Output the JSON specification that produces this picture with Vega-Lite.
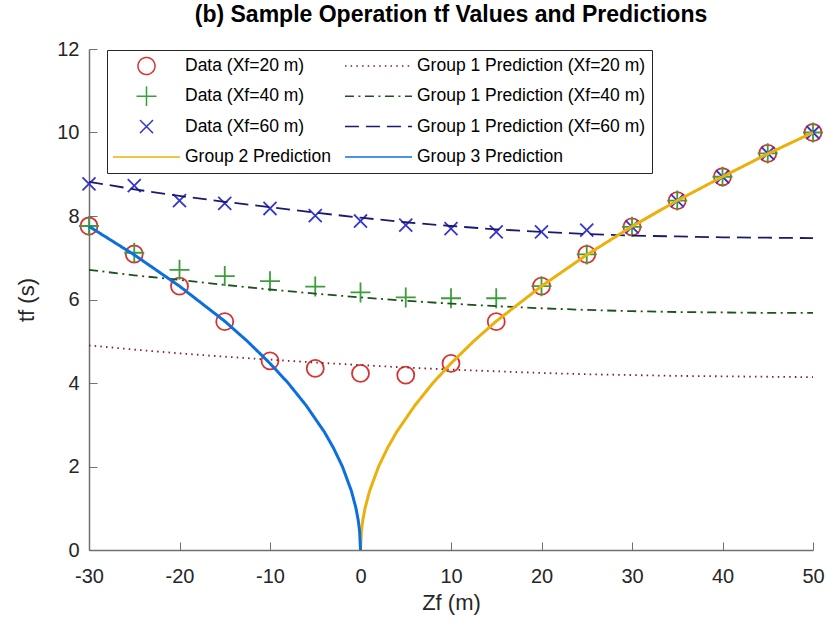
{
  "$schema": "https://vega.github.io/schema/vega-lite/v6.json",
  "width": 724,
  "height": 501,
  "autosize": {"type": "none"},
  "padding": {"left": 89, "top": 49, "right": 14, "bottom": 79},
  "background": "white",
  "title": {"text": "(b) Sample Operation tf Values and Predictions", "font": "Liberation Sans", "fontSize": 23, "fontWeight": "bold", "color": "#000000", "anchor": "middle", "offset": 12},
  "datasets": {
    "points": [
      {"series": "Data (Xf=20 m)", "z": -30, "t": 7.76},
      {"series": "Data (Xf=20 m)", "z": -25, "t": 7.09},
      {"series": "Data (Xf=20 m)", "z": -20, "t": 6.32},
      {"series": "Data (Xf=20 m)", "z": -15, "t": 5.47},
      {"series": "Data (Xf=20 m)", "z": -10, "t": 4.53},
      {"series": "Data (Xf=20 m)", "z": -5, "t": 4.35},
      {"series": "Data (Xf=20 m)", "z": 0, "t": 4.23},
      {"series": "Data (Xf=20 m)", "z": 5, "t": 4.19},
      {"series": "Data (Xf=20 m)", "z": 10, "t": 4.47},
      {"series": "Data (Xf=20 m)", "z": 15, "t": 5.47},
      {"series": "Data (Xf=20 m)", "z": 20, "t": 6.32},
      {"series": "Data (Xf=20 m)", "z": 25, "t": 7.08},
      {"series": "Data (Xf=20 m)", "z": 30, "t": 7.74},
      {"series": "Data (Xf=20 m)", "z": 35, "t": 8.37},
      {"series": "Data (Xf=20 m)", "z": 40, "t": 8.94},
      {"series": "Data (Xf=20 m)", "z": 45, "t": 9.5},
      {"series": "Data (Xf=20 m)", "z": 50, "t": 10.0},
      {"series": "Data (Xf=40 m)", "z": -30, "t": 7.76},
      {"series": "Data (Xf=40 m)", "z": -25, "t": 7.12},
      {"series": "Data (Xf=40 m)", "z": -20, "t": 6.71},
      {"series": "Data (Xf=40 m)", "z": -15, "t": 6.56},
      {"series": "Data (Xf=40 m)", "z": -10, "t": 6.44},
      {"series": "Data (Xf=40 m)", "z": -5, "t": 6.31},
      {"series": "Data (Xf=40 m)", "z": 0, "t": 6.17},
      {"series": "Data (Xf=40 m)", "z": 5, "t": 6.05},
      {"series": "Data (Xf=40 m)", "z": 10, "t": 6.03},
      {"series": "Data (Xf=40 m)", "z": 15, "t": 6.03},
      {"series": "Data (Xf=40 m)", "z": 20, "t": 6.32},
      {"series": "Data (Xf=40 m)", "z": 25, "t": 7.08},
      {"series": "Data (Xf=40 m)", "z": 30, "t": 7.74},
      {"series": "Data (Xf=40 m)", "z": 35, "t": 8.37},
      {"series": "Data (Xf=40 m)", "z": 40, "t": 8.94},
      {"series": "Data (Xf=40 m)", "z": 45, "t": 9.5},
      {"series": "Data (Xf=40 m)", "z": 50, "t": 10.0},
      {"series": "Data (Xf=60 m)", "z": -30, "t": 8.77},
      {"series": "Data (Xf=60 m)", "z": -25, "t": 8.73},
      {"series": "Data (Xf=60 m)", "z": -20, "t": 8.37},
      {"series": "Data (Xf=60 m)", "z": -15, "t": 8.3},
      {"series": "Data (Xf=60 m)", "z": -10, "t": 8.18},
      {"series": "Data (Xf=60 m)", "z": -5, "t": 8.01},
      {"series": "Data (Xf=60 m)", "z": 0, "t": 7.88},
      {"series": "Data (Xf=60 m)", "z": 5, "t": 7.78},
      {"series": "Data (Xf=60 m)", "z": 10, "t": 7.7},
      {"series": "Data (Xf=60 m)", "z": 15, "t": 7.62},
      {"series": "Data (Xf=60 m)", "z": 20, "t": 7.62},
      {"series": "Data (Xf=60 m)", "z": 25, "t": 7.66},
      {"series": "Data (Xf=60 m)", "z": 30, "t": 7.74},
      {"series": "Data (Xf=60 m)", "z": 35, "t": 8.37},
      {"series": "Data (Xf=60 m)", "z": 40, "t": 8.94},
      {"series": "Data (Xf=60 m)", "z": 45, "t": 9.5},
      {"series": "Data (Xf=60 m)", "z": 50, "t": 10.0}
    ],
    "curves": [
      {"series": "Group 1 Prediction (Xf=20 m)", "z": -30, "t": 4.9},
      {"series": "Group 1 Prediction (Xf=20 m)", "z": -25, "t": 4.8},
      {"series": "Group 1 Prediction (Xf=20 m)", "z": -20, "t": 4.71},
      {"series": "Group 1 Prediction (Xf=20 m)", "z": -15, "t": 4.63},
      {"series": "Group 1 Prediction (Xf=20 m)", "z": -10, "t": 4.56},
      {"series": "Group 1 Prediction (Xf=20 m)", "z": -5, "t": 4.49},
      {"series": "Group 1 Prediction (Xf=20 m)", "z": 0, "t": 4.43},
      {"series": "Group 1 Prediction (Xf=20 m)", "z": 5, "t": 4.37},
      {"series": "Group 1 Prediction (Xf=20 m)", "z": 10, "t": 4.32},
      {"series": "Group 1 Prediction (Xf=20 m)", "z": 15, "t": 4.28},
      {"series": "Group 1 Prediction (Xf=20 m)", "z": 20, "t": 4.24},
      {"series": "Group 1 Prediction (Xf=20 m)", "z": 25, "t": 4.21},
      {"series": "Group 1 Prediction (Xf=20 m)", "z": 30, "t": 4.19},
      {"series": "Group 1 Prediction (Xf=20 m)", "z": 35, "t": 4.17},
      {"series": "Group 1 Prediction (Xf=20 m)", "z": 40, "t": 4.16},
      {"series": "Group 1 Prediction (Xf=20 m)", "z": 45, "t": 4.15},
      {"series": "Group 1 Prediction (Xf=20 m)", "z": 50, "t": 4.14},
      {"series": "Group 1 Prediction (Xf=40 m)", "z": -30, "t": 6.71},
      {"series": "Group 1 Prediction (Xf=40 m)", "z": -25, "t": 6.58},
      {"series": "Group 1 Prediction (Xf=40 m)", "z": -20, "t": 6.47},
      {"series": "Group 1 Prediction (Xf=40 m)", "z": -15, "t": 6.35},
      {"series": "Group 1 Prediction (Xf=40 m)", "z": -10, "t": 6.24},
      {"series": "Group 1 Prediction (Xf=40 m)", "z": -5, "t": 6.14},
      {"series": "Group 1 Prediction (Xf=40 m)", "z": 0, "t": 6.05},
      {"series": "Group 1 Prediction (Xf=40 m)", "z": 5, "t": 5.97},
      {"series": "Group 1 Prediction (Xf=40 m)", "z": 10, "t": 5.9},
      {"series": "Group 1 Prediction (Xf=40 m)", "z": 15, "t": 5.84},
      {"series": "Group 1 Prediction (Xf=40 m)", "z": 20, "t": 5.79},
      {"series": "Group 1 Prediction (Xf=40 m)", "z": 25, "t": 5.75},
      {"series": "Group 1 Prediction (Xf=40 m)", "z": 30, "t": 5.72},
      {"series": "Group 1 Prediction (Xf=40 m)", "z": 35, "t": 5.7},
      {"series": "Group 1 Prediction (Xf=40 m)", "z": 40, "t": 5.69},
      {"series": "Group 1 Prediction (Xf=40 m)", "z": 45, "t": 5.68},
      {"series": "Group 1 Prediction (Xf=40 m)", "z": 50, "t": 5.68},
      {"series": "Group 1 Prediction (Xf=60 m)", "z": -30, "t": 8.82},
      {"series": "Group 1 Prediction (Xf=60 m)", "z": -25, "t": 8.64},
      {"series": "Group 1 Prediction (Xf=60 m)", "z": -20, "t": 8.48},
      {"series": "Group 1 Prediction (Xf=60 m)", "z": -15, "t": 8.34},
      {"series": "Group 1 Prediction (Xf=60 m)", "z": -10, "t": 8.21},
      {"series": "Group 1 Prediction (Xf=60 m)", "z": -5, "t": 8.08},
      {"series": "Group 1 Prediction (Xf=60 m)", "z": 0, "t": 7.96},
      {"series": "Group 1 Prediction (Xf=60 m)", "z": 5, "t": 7.85},
      {"series": "Group 1 Prediction (Xf=60 m)", "z": 10, "t": 7.76},
      {"series": "Group 1 Prediction (Xf=60 m)", "z": 15, "t": 7.68},
      {"series": "Group 1 Prediction (Xf=60 m)", "z": 20, "t": 7.62},
      {"series": "Group 1 Prediction (Xf=60 m)", "z": 25, "t": 7.57},
      {"series": "Group 1 Prediction (Xf=60 m)", "z": 30, "t": 7.53},
      {"series": "Group 1 Prediction (Xf=60 m)", "z": 35, "t": 7.51},
      {"series": "Group 1 Prediction (Xf=60 m)", "z": 40, "t": 7.49},
      {"series": "Group 1 Prediction (Xf=60 m)", "z": 45, "t": 7.48},
      {"series": "Group 1 Prediction (Xf=60 m)", "z": 50, "t": 7.47},
      {"series": "Group 2 Prediction", "z": 0, "t": 0},
      {"series": "Group 2 Prediction", "z": 0.1, "t": 0.45},
      {"series": "Group 2 Prediction", "z": 0.25, "t": 0.71},
      {"series": "Group 2 Prediction", "z": 0.5, "t": 1.0},
      {"series": "Group 2 Prediction", "z": 1, "t": 1.41},
      {"series": "Group 2 Prediction", "z": 2, "t": 2.0},
      {"series": "Group 2 Prediction", "z": 3, "t": 2.45},
      {"series": "Group 2 Prediction", "z": 4, "t": 2.83},
      {"series": "Group 2 Prediction", "z": 6, "t": 3.46},
      {"series": "Group 2 Prediction", "z": 8, "t": 4.0},
      {"series": "Group 2 Prediction", "z": 10, "t": 4.47},
      {"series": "Group 2 Prediction", "z": 12.5, "t": 5.0},
      {"series": "Group 2 Prediction", "z": 15, "t": 5.48},
      {"series": "Group 2 Prediction", "z": 20, "t": 6.32},
      {"series": "Group 2 Prediction", "z": 25, "t": 7.07},
      {"series": "Group 2 Prediction", "z": 30, "t": 7.75},
      {"series": "Group 2 Prediction", "z": 35, "t": 8.37},
      {"series": "Group 2 Prediction", "z": 40, "t": 8.94},
      {"series": "Group 2 Prediction", "z": 45, "t": 9.49},
      {"series": "Group 2 Prediction", "z": 50, "t": 10.0},
      {"series": "Group 3 Prediction", "z": -30, "t": 7.75},
      {"series": "Group 3 Prediction", "z": -25, "t": 7.07},
      {"series": "Group 3 Prediction", "z": -20, "t": 6.32},
      {"series": "Group 3 Prediction", "z": -15, "t": 5.48},
      {"series": "Group 3 Prediction", "z": -12.5, "t": 5.0},
      {"series": "Group 3 Prediction", "z": -10, "t": 4.47},
      {"series": "Group 3 Prediction", "z": -8, "t": 4.0},
      {"series": "Group 3 Prediction", "z": -6, "t": 3.46},
      {"series": "Group 3 Prediction", "z": -4, "t": 2.83},
      {"series": "Group 3 Prediction", "z": -3, "t": 2.45},
      {"series": "Group 3 Prediction", "z": -2, "t": 2.0},
      {"series": "Group 3 Prediction", "z": -1, "t": 1.41},
      {"series": "Group 3 Prediction", "z": -0.5, "t": 1.0},
      {"series": "Group 3 Prediction", "z": -0.25, "t": 0.71},
      {"series": "Group 3 Prediction", "z": -0.1, "t": 0.45},
      {"series": "Group 3 Prediction", "z": 0, "t": 0}
    ]
  },
  "encoding": {
    "x": {
      "field": "z", "type": "quantitative", "title": "Zf (m)",
      "scale": {"domain": [-30, 50], "nice": false, "zero": false},
      "axis": {"values": [-30, -20, -10, 0, 10, 20, 30, 40, 50], "labelExpr": "toString(datum.value)"}
    },
    "y": {
      "field": "t", "type": "quantitative", "title": "tf (s)",
      "scale": {"domain": [0, 12], "nice": false, "zero": false},
      "axis": {"values": [0, 2, 4, 6, 8, 10, 12], "labelExpr": "toString(datum.value)"}
    }
  },
  "layer": [
    {
      "data": {"name": "points"},
      "mark": {"type": "point", "filled": false, "opacity": 1, "size": 290, "strokeWidth": 1.8},
      "encoding": {
        "color": {
          "field": "series", "type": "nominal",
          "scale": {
            "domain": ["Data (Xf=20 m)", "Data (Xf=40 m)", "Data (Xf=60 m)", "Group 2 Prediction", "Group 1 Prediction (Xf=20 m)", "Group 1 Prediction (Xf=40 m)", "Group 1 Prediction (Xf=60 m)", "Group 3 Prediction"],
            "range": ["#D83333", "#3A9E3A", "#3636CC", "#EAB10C", "#801F1F", "#1C521C", "#1A1A6E", "#0B6FE0"]
          },
          "legend": {
            "title": null,
            "encode": {
              "symbols": {
                "update": {
                  "fill": {"value": "transparent"},
                  "strokeWidth": {"signal": "datum.value === 'Group 2 Prediction' || datum.value === 'Group 3 Prediction' ? 3 : 1.8"}
                }
              }
            }
          }
        },
        "shape": {
          "field": "series", "type": "nominal",
          "scale": {
            "domain": ["Data (Xf=20 m)", "Data (Xf=40 m)", "Data (Xf=60 m)", "Group 2 Prediction", "Group 1 Prediction (Xf=20 m)", "Group 1 Prediction (Xf=40 m)", "Group 1 Prediction (Xf=60 m)", "Group 3 Prediction"],
            "range": ["circle", "M-1.175,0H1.175M0,-1.175V1.175", "M-0.764,-0.764L0.764,0.764M-0.764,0.764L0.764,-0.764", "M-3.94,0H3.94", "M-3.94,0H3.94", "M-3.94,0H3.94", "M-3.94,0H3.94", "M-3.94,0H3.94"]
          },
          "legend": {"title": null}
        }
      }
    },
    {
      "data": {"name": "curves"},
      "mark": {"type": "line", "opacity": 1},
      "encoding": {
        "color": {
          "field": "series", "type": "nominal",
          "scale": {
            "domain": ["Data (Xf=20 m)", "Data (Xf=40 m)", "Data (Xf=60 m)", "Group 2 Prediction", "Group 1 Prediction (Xf=20 m)", "Group 1 Prediction (Xf=40 m)", "Group 1 Prediction (Xf=60 m)", "Group 3 Prediction"],
            "range": ["#D83333", "#3A9E3A", "#3636CC", "#EAB10C", "#801F1F", "#1C521C", "#1A1A6E", "#0B6FE0"]
          },
          "legend": {"title": null}
        },
        "strokeDash": {
          "field": "series", "type": "nominal",
          "scale": {
            "domain": ["Data (Xf=20 m)", "Data (Xf=40 m)", "Data (Xf=60 m)", "Group 2 Prediction", "Group 1 Prediction (Xf=20 m)", "Group 1 Prediction (Xf=40 m)", "Group 1 Prediction (Xf=60 m)", "Group 3 Prediction"],
            "range": [[1, 0], [1, 0], [1, 0], [1, 0], [1.5, 4.2], [9, 4.5, 2, 4.5], [14, 7], [1, 0]]
          },
          "legend": {"title": null}
        },
        "strokeWidth": {
          "condition": {"test": "datum.series === 'Group 2 Prediction' || datum.series === 'Group 3 Prediction'", "value": 3},
          "value": 1.8
        }
      }
    }
  ],
  "config": {
    "view": {"stroke": null},
    "font": "Liberation Sans",
    "axis": {
      "grid": false,
      "domainColor": "#707070",
      "domainWidth": 1.5,
      "tickColor": "#707070",
      "tickWidth": 1,
      "tickSize": -8,
      "labelFont": "Liberation Sans",
      "labelFontSize": 20,
      "labelColor": "#262626",
      "labelFlush": false,
      "labelOverlap": false,
      "titleFont": "Liberation Sans",
      "titleFontSize": 22,
      "titleFontWeight": "normal",
      "titleColor": "#262626"
    },
    "axisX": {"labelPadding": 24, "titlePadding": 6},
    "axisY": {"labelPadding": 18, "titlePadding": 18},
    "legend": {
      "orient": "none",
      "legendX": 18,
      "legendY": 1,
      "columns": 2,
      "columnPadding": 14,
      "rowPadding": 10.3,
      "padding": 6,
      "strokeColor": "#262626",
      "fillColor": "white",
      "labelFont": "Liberation Sans",
      "labelFontSize": 17.5,
      "labelColor": "#000000",
      "labelLimit": 400,
      "symbolSize": 290,
      "symbolOffset": 24,
      "labelOffset": 29,
      "clipHeight": 20
    }
  }
}
